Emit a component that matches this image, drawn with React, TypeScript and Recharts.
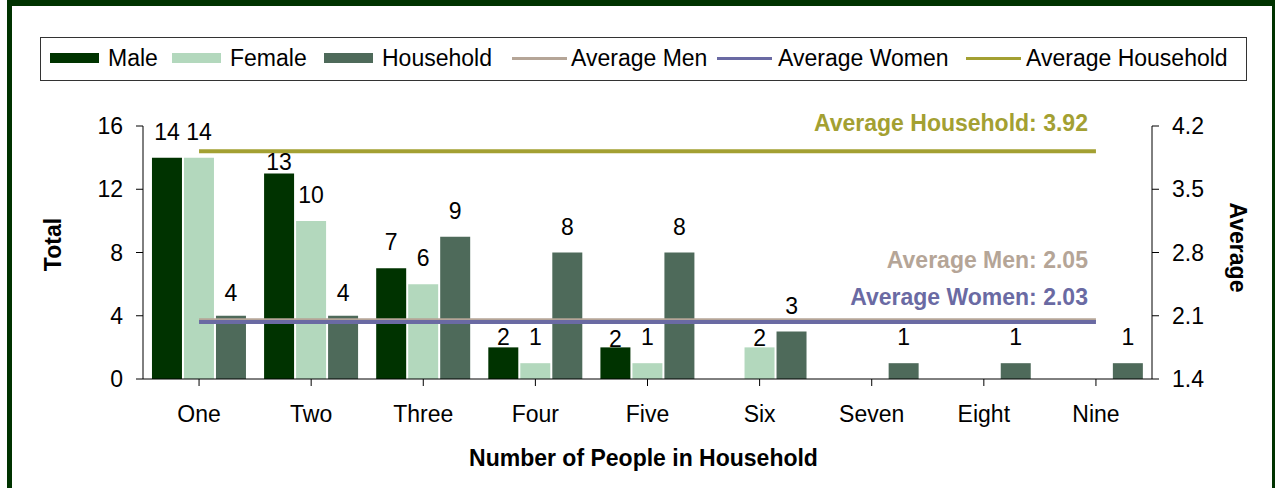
import { Bar, ComposedChart, Label, LabelList, Line, XAxis, YAxis } from "recharts";

const CATEGORIES = ["One", "Two", "Three", "Four", "Five", "Six", "Seven", "Eight", "Nine"];
const MALE = [14, 13, 7, 2, 2, 0, 0, 0, 0];
const FEMALE = [14, 10, 6, 1, 1, 2, 0, 0, 0];
const HOUSEHOLD = [4, 4, 9, 8, 8, 3, 1, 1, 1];
const AVG_MEN = 2.05;
const AVG_WOMEN = 2.03;
const AVG_HOUSEHOLD = 3.92;
const TOTAL_TICKS = [0, 4, 8, 12, 16];
const AVERAGE_TICKS = [1.4, 2.1, 2.8, 3.5, 4.2];

const data = CATEGORIES.map((name, i) => ({
  name,
  male: MALE[i],
  female: FEMALE[i],
  household: HOUSEHOLD[i],
  avgMen: AVG_MEN,
  avgWomen: AVG_WOMEN,
  avgHousehold: AVG_HOUSEHOLD,
}));

const FONT = "'Liberation Sans', Arial, Helvetica, sans-serif";
const FS = 23;
const TICK = { fill: "#000", fontSize: FS, fontFamily: FONT };

const C_MALE = "#003300";
const C_FEMALE = "#b3d8bd";
const C_HOUSEHOLD = "#4e6a5a";
const C_AVG_MEN = "#b5a597";
const C_AVG_WOMEN = "#6a6aa3";
const C_AVG_HOUSEHOLD = "#a3a032";

// Excel had a few value labels dragged down so they clear the average lines.
const LABEL_LIFT: Record<string, number> = {
  "male-1": 11,
  "male-3": 10,
  "male-4": 8,
  "female-5": 9,
  "household-0": 23,
  "household-1": 23,
};

function valueLabel(series: string) {
  return (props: any) => {
    const vb = props.viewBox ?? props;
    const { value, index } = props;
    if (!value) return null;
    const lift = LABEL_LIFT[`${series}-${index}`] ?? 26;
    return (
      <text
        x={Number(vb.x) + Number(vb.width) / 2}
        y={Number(vb.y) - lift}
        textAnchor="middle"
        dominantBaseline="central"
        fontSize={FS}
        fontFamily={FONT}
        fill="#000"
      >
        {value}
      </text>
    );
  };
}

function averageLabel(text: string, color: string, lift: number) {
  return (props: any) => {
    const vb = props.viewBox ?? props;
    if (props.index !== CATEGORIES.length - 1) return null;
    return (
      <text
        x={Number(vb.x) - 8}
        y={Number(vb.y) - lift}
        textAnchor="end"
        dominantBaseline="central"
        fontSize={FS}
        fontWeight="bold"
        fontFamily={FONT}
        fill={color}
      >
        {text}
      </text>
    );
  };
}

const LEGEND = [
  { label: "Male", color: C_MALE, kind: "bar", at: 50, textAt: 108 },
  { label: "Female", color: C_FEMALE, kind: "bar", at: 172, textAt: 230 },
  { label: "Household", color: C_HOUSEHOLD, kind: "bar", at: 324, textAt: 382 },
  { label: "Average Men", color: C_AVG_MEN, kind: "line", at: 512, textAt: 571 },
  { label: "Average Women", color: C_AVG_WOMEN, kind: "line", at: 717, textAt: 778 },
  { label: "Average Household", color: C_AVG_HOUSEHOLD, kind: "line", at: 966, textAt: 1026 },
];

function LegendBox() {
  return (
    <div
      style={{
        position: "absolute",
        left: 40,
        top: 37,
        width: 1207,
        height: 44,
        boxSizing: "border-box",
        border: "1px solid #333",
        fontFamily: FONT,
        fontSize: FS,
        color: "#000",
        whiteSpace: "nowrap",
      }}
    >
      {LEGEND.map((item) => (
        <div key={item.label}>
          {item.kind === "bar" ? (
            <span
              style={{ position: "absolute", left: item.at - 41, top: 15, width: 49, height: 10, background: item.color }}
            />
          ) : (
            <span
              style={{ position: "absolute", left: item.at - 41, top: 19, width: 55, height: 3, background: item.color }}
            />
          )}
          <span style={{ position: "absolute", left: item.textAt - 41, top: 7, lineHeight: "26px" }}>{item.label}</span>
        </div>
      ))}
    </div>
  );
}

export default function App() {
  return (
    <div style={{ position: "fixed", left: 0, top: 0, width: 1275, height: 488, background: "#fff", overflow: "hidden" }}>
      <ComposedChart
        width={1275}
        height={488}
        data={data}
        margin={{ top: 126, right: 63, bottom: 59, left: 83 }}
        barCategoryGap="8%"
        barGap={2}
        style={{ position: "absolute", left: 0, top: 0 }}
      >
        <XAxis
          dataKey="name"
          height={50}
          tick={TICK}
          tickSize={7}
          tickMargin={20}
          axisLine={{ stroke: "#000" }}
          tickLine={{ stroke: "#000" }}
        >
          <Label
            content={(p: any) => {
              const vb = p.viewBox;
              return (
                <text
                  x={vb.x + vb.width / 2 - 4}
                  y={458}
                  textAnchor="middle"
                  dominantBaseline="central"
                  fontSize={FS}
                  fontWeight="bold"
                  fontFamily={FONT}
                  fill="#000"
                >
                  Number of People in Household
                </text>
              );
            }}
          />
        </XAxis>
        <YAxis
          yAxisId="total"
          width={60}
          domain={[0, 16]}
          ticks={TOTAL_TICKS}
          tick={TICK}
          tickSize={7}
          tickMargin={13}
          axisLine={{ stroke: "#000" }}
          tickLine={{ stroke: "#000" }}
        >
          <Label
            content={(p: any) => {
              const vb = p.viewBox;
              const x = vb.x - 30;
              const y = vb.y + vb.height / 2 - 8;
              return (
                <text
                  x={x}
                  y={y}
                  transform={`rotate(-90 ${x} ${y})`}
                  textAnchor="middle"
                  dominantBaseline="central"
                  fontSize={FS}
                  fontWeight="bold"
                  fontFamily={FONT}
                  fill="#000"
                >
                  Total
                </text>
              );
            }}
          />
        </YAxis>
        <YAxis
          yAxisId="avg"
          orientation="right"
          width={60}
          domain={[1.4, 4.2]}
          ticks={AVERAGE_TICKS}
          tickFormatter={(v: number) => v.toFixed(1)}
          tick={TICK}
          tickSize={7}
          tickMargin={13}
          axisLine={{ stroke: "#000" }}
          tickLine={{ stroke: "#000" }}
        >
          <Label
            content={(p: any) => {
              const vb = p.viewBox;
              const x = vb.x + 86;
              const y = vb.y + vb.height / 2 - 5;
              return (
                <text
                  x={x}
                  y={y}
                  transform={`rotate(90 ${x} ${y})`}
                  textAnchor="middle"
                  dominantBaseline="central"
                  fontSize={FS}
                  fontWeight="bold"
                  fontFamily={FONT}
                  fill="#000"
                >
                  Average
                </text>
              );
            }}
          />
        </YAxis>
        <Bar yAxisId="total" dataKey="male" fill={C_MALE} isAnimationActive={false}>
          <LabelList dataKey="male" content={valueLabel("male")} />
        </Bar>
        <Bar yAxisId="total" dataKey="female" fill={C_FEMALE} isAnimationActive={false}>
          <LabelList dataKey="female" content={valueLabel("female")} />
        </Bar>
        <Bar yAxisId="total" dataKey="household" fill={C_HOUSEHOLD} isAnimationActive={false}>
          <LabelList dataKey="household" content={valueLabel("household")} />
        </Bar>
        <Line
          yAxisId="avg"
          dataKey="avgHousehold"
          stroke={C_AVG_HOUSEHOLD}
          strokeWidth={4}
          dot={false}
          activeDot={false}
          isAnimationActive={false}
        >
          <LabelList dataKey="avgHousehold" content={averageLabel("Average Household: 3.92", C_AVG_HOUSEHOLD, 28)} />
        </Line>
        <Line
          yAxisId="avg"
          dataKey="avgMen"
          stroke={C_AVG_MEN}
          strokeWidth={4}
          dot={false}
          activeDot={false}
          isAnimationActive={false}
        >
          <LabelList dataKey="avgMen" content={averageLabel("Average Men: 2.05", C_AVG_MEN, 60)} />
        </Line>
        <Line
          yAxisId="avg"
          dataKey="avgWomen"
          stroke={C_AVG_WOMEN}
          strokeWidth={4}
          dot={false}
          activeDot={false}
          isAnimationActive={false}
        >
          <LabelList dataKey="avgWomen" content={averageLabel("Average Women: 2.03", C_AVG_WOMEN, 25)} />
        </Line>
      </ComposedChart>
      <LegendBox />
      <div
        style={{
          position: "absolute",
          left: 7,
          top: 0,
          width: 1268,
          height: 488,
          boxSizing: "border-box",
          borderTop: "6px solid #003300",
          borderLeft: "5px solid #003300",
          borderRight: "3px solid #003300",
          pointerEvents: "none",
        }}
      />
    </div>
  );
}
